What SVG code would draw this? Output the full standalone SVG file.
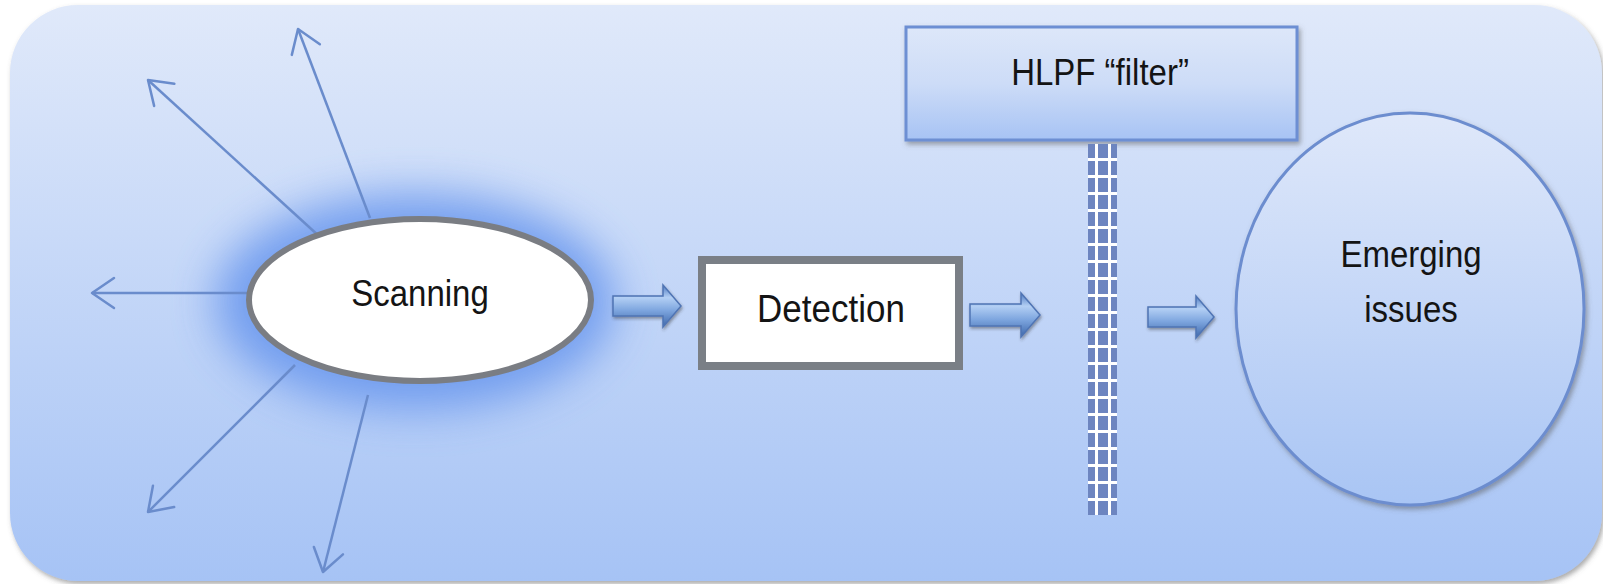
<svg xmlns="http://www.w3.org/2000/svg" width="1603" height="584" viewBox="0 0 1603 584">
<style>
.lbl{font-family:"Liberation Sans",Arial,sans-serif;fill:#141414;text-anchor:middle}
.ray{stroke:#6a8ccc;stroke-width:2.5;fill:none;marker-end:url(#open)}
.blk{fill:url(#blkGrad);stroke:#4f74b4;stroke-width:1.5;filter:url(#sh2)}
</style>
<defs>
<linearGradient id="bgGrad" x1="0" y1="0" x2="0" y2="1">
<stop offset="0" stop-color="#e0e9fa"/>
<stop offset="1" stop-color="#a6c3f5"/>
</linearGradient>
<linearGradient id="boxGrad" x1="0" y1="0" x2="0" y2="1">
<stop offset="0" stop-color="#dde7f9"/>
<stop offset="0.5" stop-color="#cddcf7"/>
<stop offset="1" stop-color="#a7c3f4"/>
</linearGradient>
<linearGradient id="ellGrad" x1="0" y1="0" x2="0" y2="1">
<stop offset="0" stop-color="#dfe8fa"/>
<stop offset="1" stop-color="#a9c5f4"/>
</linearGradient>
<linearGradient id="blkGrad" x1="0" y1="0" x2="0" y2="1">
<stop offset="0" stop-color="#4e7bc2"/>
<stop offset="0.3" stop-color="#b3cff4"/>
<stop offset="0.6" stop-color="#7ea6df"/>
<stop offset="1" stop-color="#3e68ab"/>
</linearGradient>
<filter id="sh" x="-10%" y="-10%" width="120%" height="130%">
<feDropShadow dx="2" dy="3" stdDeviation="2.5" flood-color="#555" flood-opacity="0.5"/>
</filter>
<filter id="sh2" x="-20%" y="-30%" width="140%" height="170%">
<feDropShadow dx="1" dy="2" stdDeviation="1.5" flood-color="#333" flood-opacity="0.45"/>
</filter>
<filter id="glow" x="-50%" y="-80%" width="200%" height="260%">
<feGaussianBlur stdDeviation="22"/>
</filter>
<marker id="open" markerUnits="userSpaceOnUse" markerWidth="26" markerHeight="34" viewBox="0 0 26 34" refX="24" refY="17" orient="auto">
<path d="M2,2 L24,17 L2,32" fill="none" stroke="#6a8ccc" stroke-width="2.5" stroke-linejoin="round" stroke-linecap="round"/>
</marker>
<pattern id="grid" patternUnits="userSpaceOnUse" x="1088" y="144" width="29" height="17">
<rect x="0" y="0" width="29" height="17" fill="#ffffff"/>
<rect x="0" y="0" width="7" height="14" fill="#6d85c0"/>
<rect x="10" y="0" width="10" height="14" fill="#6d85c0"/>
<rect x="23" y="0" width="6" height="14" fill="#6d85c0"/>
</pattern>
</defs>

<g id="background">
<rect x="10" y="5" width="1592" height="576" rx="68" ry="68" fill="url(#bgGrad)" filter="url(#sh)"/>
</g>

<g id="scanning-glow">
<ellipse cx="415" cy="302" rx="200" ry="108" fill="#6a98ee" opacity="0.9" filter="url(#glow)"/>
</g>

<g id="connectors">
<line class="ray" x1="370" y1="218" x2="298" y2="29"/>
<line class="ray" x1="320" y1="237" x2="148" y2="80"/>
<line class="ray" x1="250" y1="293" x2="92" y2="293"/>
<line class="ray" x1="295" y1="365" x2="148" y2="512"/>
<line class="ray" x1="368" y1="395" x2="323" y2="572"/>
<path class="blk" d="M613,296 L663,296 L663,285 L681,306 L663,327 L663,316 L613,316 Z"/>
<path class="blk" d="M970,304 L1021,304 L1021,293 L1040,315 L1021,337 L1021,326 L970,326 Z"/>
<path class="blk" d="M1148,307 L1196,307 L1196,296 L1214,317 L1196,338 L1196,327 L1148,327 Z"/>
</g>

<g id="scanning">
<ellipse cx="420" cy="300" rx="171" ry="81" fill="#ffffff" stroke="#7a7d83" stroke-width="6"/>
<text class="lbl" transform="translate(420,306) scale(1,1.12)" font-size="33">Scanning</text>
</g>

<g id="detection">
<rect x="702" y="260" width="257" height="106" fill="#ffffff" stroke="#7a7f86" stroke-width="8"/>
<text class="lbl" transform="translate(831,322) scale(1,1.12)" font-size="35">Detection</text>
</g>

<g id="hlpf-filter">
<rect x="906" y="27" width="391" height="113" fill="url(#boxGrad)" stroke="#6d8fd3" stroke-width="3" filter="url(#sh)"/>
<text class="lbl" transform="translate(1100,85) scale(1,1.1)" font-size="33">HLPF “filter”</text>
</g>

<g id="filter-bar">
<rect x="1088" y="144" width="29" height="371" fill="url(#grid)"/>
</g>

<g id="emerging-issues">
<ellipse cx="1410" cy="309" rx="174" ry="196" fill="url(#ellGrad)" stroke="#6c8dcf" stroke-width="3" filter="url(#sh)"/>
<text class="lbl" transform="translate(1411,267) scale(1,1.1)" font-size="33">Emerging</text>
<text class="lbl" transform="translate(1411,322) scale(1,1.1)" font-size="33">issues</text>
</g>
</svg>
